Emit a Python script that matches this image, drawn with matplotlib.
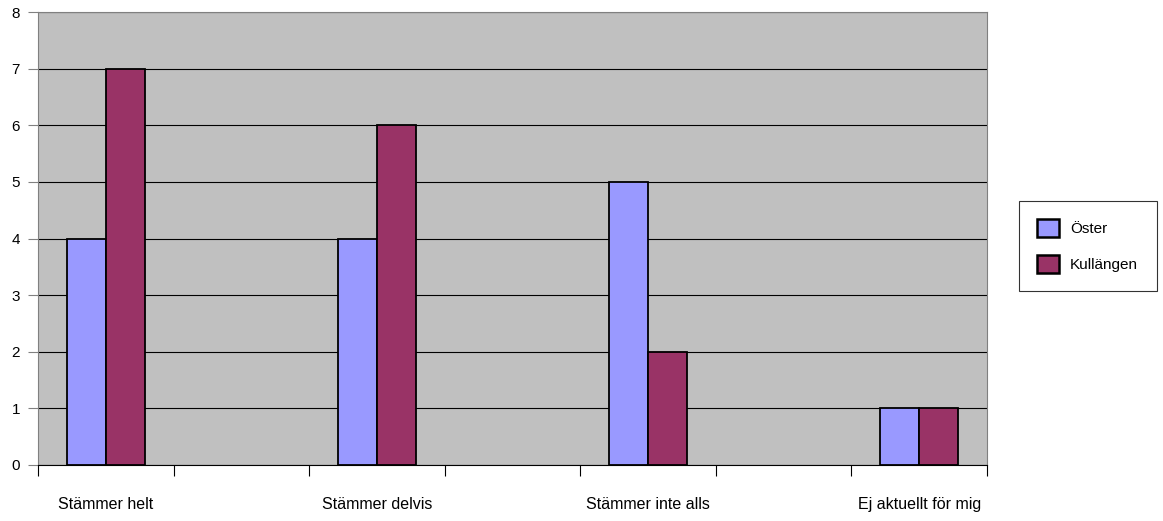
import numpy as np
import matplotlib.pyplot as plt

plt.rcParams['font.family'] = ['Liberation Sans', 'DejaVu Sans']

categories = ['Stämmer helt', 'Stämmer delvis', 'Stämmer inte alls', 'Ej aktuellt för mig']
oster = [4, 4, 5, 1]
kullangen = [7, 6, 2, 1]

fig = plt.figure(figsize=(11.63, 5.21), dpi=100)
ax = fig.add_axes([38 / 1163, 1 - 465 / 521, (987 - 38) / 1163, (465 - 12) / 521])
ax.set_facecolor('#C0C0C0')

# every other slot is empty in the original layout
pos = np.arange(len(categories)) * 2
w = 0.2875
ax.bar(pos - w / 2, oster, w, color='#9999FF', edgecolor='black', linewidth=1.3,
       label='Öster', zorder=3)
ax.bar(pos + w / 2, kullangen, w, color='#993366', edgecolor='black', linewidth=1.3,
       label='Kullängen', zorder=3)

ax.set_xlim(-0.5, pos[-1] + 0.5)
ax.set_ylim(0, 8)
ax.set_yticks(range(0, 9))
ax.yaxis.grid(True, color='black', linewidth=0.8, zorder=1)
ax.tick_params(axis='y', length=7, width=0.8, labelsize=11, pad=6, color='#808080')

ax.set_xticks(np.arange(-0.5, pos[-1] + 1, 1))
ax.set_xticklabels([])
ax.tick_params(axis='x', which='major', length=8, width=0.8)
ax.set_xticks(pos, minor=True)
ax.set_xticklabels(categories, minor=True)
ax.tick_params(axis='x', which='minor', length=0, pad=23, labelsize=11.5)

for s in ['left', 'right', 'top']:
    ax.spines[s].set_color('#808080')
ax.spines['bottom'].set_color('black')

leg = ax.legend(loc='center left', bbox_to_anchor=(1019 / 1163, 1 - 246 / 521),
                bbox_transform=fig.transFigure, frameon=True, fancybox=False,
                fontsize=11, borderpad=1.2, labelspacing=1.2, handlelength=1.45,
                handleheight=1.4, handletextpad=0.7, borderaxespad=0)
leg.get_frame().set_edgecolor('black')
leg.get_frame().set_linewidth(0.8)
for p in leg.get_patches():
    p.set_linewidth(1.8)

plt.savefig('out.png')
